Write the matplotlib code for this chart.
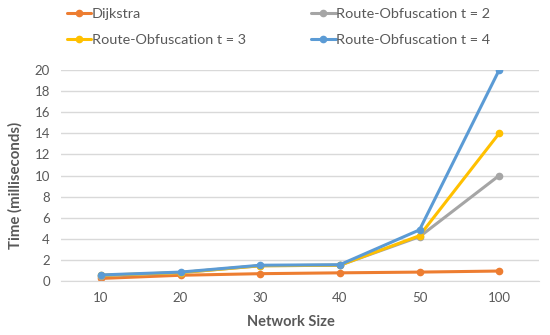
import numpy as np
import matplotlib
matplotlib.use("Agg")
import matplotlib.pyplot as plt

plt.rcParams['font.family'] = ['Lato', 'DejaVu Sans']

sizes = ['10', '20', '30', '40', '50', '100']
dijkstra = [0.25, 0.55, 0.7, 0.78, 0.85, 0.95]
route_t2 = [0.5, 0.8, 1.45, 1.5, 4.2, 10.0]
route_t3 = [0.55, 0.8, 1.45, 1.5, 4.3, 14.0]
route_t4 = [0.58, 0.85, 1.5, 1.55, 4.85, 20.0]

series = [
    ('Dijkstra', dijkstra, '#ED7D31'),
    ('Route-Obfuscation t = 2', route_t2, '#A5A5A5'),
    ('Route-Obfuscation t = 3', route_t3, '#FFC000'),
    ('Route-Obfuscation t = 4', route_t4, '#5B9BD5'),
]

fig = plt.figure(figsize=(5.5, 3.35), dpi=100)
ax = fig.add_axes([0.111, 0.161, 0.869, 0.630])

x = np.arange(len(sizes))
lines = {}
for name, vals, col in series:
    lines[name], = ax.plot(x, vals, color=col, lw=2.2, marker='o', ms=4.5,
                           label=name, solid_capstyle='round')

ax.set_xlim(-0.5, len(sizes) - 0.5)
ax.set_ylim(0, 20)
ax.set_yticks(np.arange(0, 21, 2))
ax.set_xticks(x)
ax.set_xticklabels(sizes)
ax.grid(axis='y', color='#D9D9D9', lw=1)
ax.set_axisbelow(True)
for s in ['top', 'right', 'left']:
    ax.spines[s].set_visible(False)
ax.spines['bottom'].set_color('#D9D9D9')
ax.tick_params(length=0, colors='#595959', labelsize=9.5, pad=8)

ax.set_xlabel('Network Size', fontsize=10.5, fontweight='bold', color='#595959')
ax.set_ylabel('Time (milliseconds)', fontsize=10.8, fontweight='bold', color='#595959')
ax.xaxis.set_label_coords(0.482, -0.163)
ax.yaxis.set_label_coords(-0.08, 0.455)

# legend order: row 1 = Dijkstra, t=2 ; row 2 = t=3, t=4
handles = [lines[n] for n in ['Dijkstra', 'Route-Obfuscation t = 3',
                              'Route-Obfuscation t = 2', 'Route-Obfuscation t = 4']]
leg = fig.legend(handles=handles, labels=[h.get_label() for h in handles],
                 loc='upper left', bbox_to_anchor=(0.116, 0.985), ncol=2,
                 frameon=False, fontsize=10.4, handlelength=1.7, handletextpad=0.05,
                 columnspacing=4.5, labelspacing=0.95, borderpad=0.2,
                 borderaxespad=0, labelcolor='#595959')

fig.savefig('out.png', dpi=100)
